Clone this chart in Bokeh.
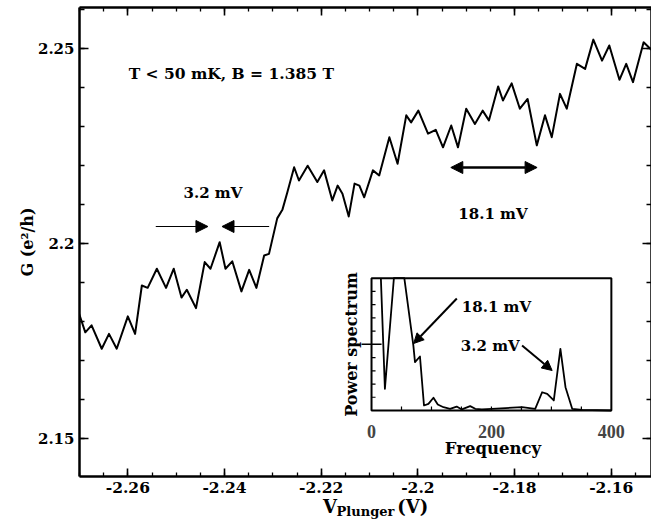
import math
from bokeh.plotting import figure
from bokeh.models import (Range1d, LinearAxis, FixedTicker, CustomJSTickFormatter,
                          Label, Arrow, NormalHead)
from bokeh.embed import file_html
from bokeh.resources import INLINE

# ---------------- data ----------------
v_plunger = [-2.2702, -2.2688, -2.2675, -2.2654, -2.2639, -2.2623, -2.2600, -2.2585,
             -2.2571, -2.2559, -2.2540, -2.2521, -2.2505, -2.2489, -2.2478, -2.2459,
             -2.2441, -2.2429, -2.2410, -2.2398, -2.2384, -2.2365, -2.2349, -2.2334,
             -2.2318, -2.2308, -2.2291, -2.2280, -2.2270, -2.2256, -2.2246, -2.2228,
             -2.2208, -2.2194, -2.2177, -2.2166, -2.2156, -2.2143, -2.2131, -2.2121,
             -2.2111, -2.2093, -2.2080, -2.2059, -2.2042, -2.2024, -2.2014, -2.1999,
             -2.1979, -2.1963, -2.1948, -2.1931, -2.1917, -2.1900, -2.1882, -2.1866,
             -2.1853, -2.1834, -2.1824, -2.1806, -2.1789, -2.1773, -2.1754, -2.1737,
             -2.1723, -2.1706, -2.1692, -2.1671, -2.1654, -2.1637, -2.1619, -2.1604,
             -2.1583, -2.1569, -2.1555, -2.1533, -2.1517]
conductance = [2.1824, 2.1772, 2.1790, 2.1730, 2.1768, 2.1730, 2.1813, 2.1768,
               2.1892, 2.1886, 2.1935, 2.1886, 2.1935, 2.1861, 2.1881, 2.1834,
               2.1952, 2.1935, 2.2003, 2.1935, 2.1954, 2.1877, 2.1932, 2.1886,
               2.1969, 2.1973, 2.2064, 2.2087, 2.2131, 2.2195, 2.2161, 2.2199,
               2.2157, 2.2187, 2.2110, 2.2148, 2.2127, 2.2069, 2.2153, 2.2148,
               2.2118, 2.2187, 2.2174, 2.2272, 2.2204, 2.2328, 2.2310, 2.2340,
               2.2281, 2.2291, 2.2246, 2.2302, 2.2246, 2.2345, 2.2306, 2.2340,
               2.2315, 2.2402, 2.2366, 2.2410, 2.2345, 2.2370, 2.2251, 2.2328,
               2.2272, 2.2383, 2.2345, 2.2460, 2.2447, 2.2522, 2.2468, 2.2507,
               2.2419, 2.2460, 2.2413, 2.2515, 2.2496]

frequency = [15.6, 22.3, 37.3, 54.7, 69.8, 72.5, 80.8, 87.5, 94.9, 103.3, 110.5,
             120.0, 131.0, 142.0, 150.6, 164.5, 173.0, 184.0, 200.8, 251.0, 273.0,
             284.5, 293.0, 304.0, 315.0, 323.5, 334.7, 351.5, 400.0]
power = [1.0, 0.164, 1.0, 1.0, 0.49, 0.365, 0.408, 0.038, 0.05, 0.096, 0.045,
         0.025, 0.013, 0.03, 0.008, 0.033, 0.013, 0.008, 0.013, 0.025, 0.013,
         0.138, 0.126, 0.076, 0.466, 0.176, 0.013, 0.005, 0.0]

x_major_ticks = [-2.26, -2.24, -2.22, -2.20, -2.18, -2.16]
x_minor_ticks = [-2.27, -2.265, -2.26, -2.255, -2.25, -2.245, -2.24, -2.235, -2.23,
                 -2.225, -2.22, -2.215, -2.21, -2.205, -2.20, -2.195, -2.19, -2.185,
                 -2.18, -2.175, -2.17, -2.165, -2.16, -2.155]
y_major_ticks = [2.15, 2.20, 2.25]
y_minor_ticks = [2.14, 2.15, 2.16, 2.17, 2.18, 2.19, 2.20, 2.21, 2.22, 2.23, 2.24,
                 2.25, 2.26]
inset_x_labels = [0, 200, 400]
inset_x_ticks = [50, 100, 150, 200, 250, 300, 350]
inset_y_ticks = [0.1, 0.2, 0.3, 0.4, 0.6, 0.7, 0.8, 0.9]

y_title = "G (e\u00b2/h)"
x_title_main = ["V", "(V)"]
x_title_sub = "Plunger"

# ---------------- layout ----------------
FONT = "DejaVu Serif"
W, H = 651, 528
FL, FR, FT, FB = 79, 649, 7, 476   # frame edges in picture pixels

p = figure(width=W, height=H, output_backend="svg", toolbar_location=None,
           tools="", x_range=Range1d(-2.27, -2.27 + (FR - FL) / 4817.0),
           y_range=Range1d(2.25 - (FB - 47.7) / 3903.0, 2.25 + (47.7 - FT) / 3903.0),
           min_border_left=FL, min_border_right=0, min_border_top=FT,
           min_border_bottom=H - FB)
p.outline_line_color = None
p.xgrid.grid_line_color = None
p.ygrid.grid_line_color = None
p.background_fill_color = "white"
p.border_fill_color = "white"

p.extra_x_ranges = {"px": Range1d(FL, FR),
                    "freq": Range1d(-(370 - FL) / 0.5975, 400 + (FR - 609) / 0.5975)}
p.extra_y_ranges = {"py": Range1d(FB, FT),
                    "pow": Range1d(-(FB - 410) / 132.3, 1 + (277.7 - FT) / 132.3)}

fmt = CustomJSTickFormatter(code="return String(parseFloat(tick.toFixed(3)));")
blank = CustomJSTickFormatter(code="return '';")


def style_axis(ax, major_in, minor_in, size="15.5px"):
    ax.axis_line_width = 2.5
    ax.axis_line_color = "black"
    ax.major_tick_in = major_in
    ax.major_tick_out = 0
    ax.minor_tick_in = minor_in
    ax.minor_tick_out = 0
    ax.major_tick_line_width = 1.6
    ax.minor_tick_line_width = 1.3
    ax.major_tick_line_color = "black"
    ax.minor_tick_line_color = "black"
    ax.major_label_text_font = FONT
    ax.major_label_text_font_style = "bold"
    ax.major_label_text_font_size = size
    ax.major_label_text_color = "black"


xt = FixedTicker(ticks=x_major_ticks, minor_ticks=x_minor_ticks)
yt = FixedTicker(ticks=y_major_ticks, minor_ticks=y_minor_ticks)

xa = p.xaxis[0]
xa.ticker = xt
xa.formatter = fmt
style_axis(xa, 8, 4)
xa.major_label_standoff = 5

ya = p.yaxis[0]
ya.ticker = yt
ya.formatter = fmt
style_axis(ya, 9, 5, "15px")
ya.major_label_standoff = 5
ya.axis_label = y_title
ya.axis_label_text_font = FONT
ya.axis_label_text_font_style = "bold"
ya.axis_label_text_font_size = "16px"
ya.axis_label_text_color = "black"
ya.axis_label_standoff = -2

top = LinearAxis(ticker=xt, formatter=blank, major_label_standoff=0)
style_axis(top, 8, 4, "1px")
p.add_layout(top, "above")

right = LinearAxis(ticker=yt, formatter=blank, major_label_standoff=0)
style_axis(right, 9, 5, "1px")
p.add_layout(right, "right")

# x-axis title "V_Plunger (V)": a label-only axis (pixel positions) whose
# tick labels give "V" and "(V)" and whose axis label gives the subscript
title_axis = LinearAxis(x_range_name="px",
                        ticker=FixedTicker(ticks=[328.5, 411], minor_ticks=[]),
                        formatter=CustomJSTickFormatter(
                            args=dict(words=x_title_main),
                            code="return words[index];"),
                        axis_line_color=None, major_tick_line_color=None,
                        minor_tick_line_color=None, major_label_standoff=-6,
                        major_label_text_font=FONT, major_label_text_font_style="bold",
                        major_label_text_font_size="18px",
                        major_label_text_color="black",
                        axis_label=x_title_sub, axis_label_standoff=-16,
                        axis_label_text_font=FONT, axis_label_text_font_style="bold",
                        axis_label_text_font_size="13px",
                        axis_label_text_color="black")
p.add_layout(title_axis, "below")

# ---------------- main curve ----------------
p.line(v_plunger, conductance, line_color="black", line_width=2, line_join="round")


def add_text(text, x, y, size, align="left", baseline="alphabetic", angle=0.0):
    p.add_layout(Label(x=x, y=y, x_range_name="px", y_range_name="py", text=text,
                       text_font=FONT, text_font_style="bold",
                       text_font_size=f"{size}px", text_color="black",
                       text_align=align, text_baseline=baseline, angle=angle))


def add_arrow(x0, y0, x1, y1, width, head, both=False):
    kw = dict(x_start=x0, y_start=y0, x_end=x1, y_end=y1, line_width=width,
              line_color="black", x_range_name="px", y_range_name="py",
              end=NormalHead(size=head, fill_color="black", line_color="black",
                             line_width=1))
    kw["start"] = (NormalHead(size=head, fill_color="black", line_color="black",
                              line_width=1) if both else None)
    p.add_layout(Arrow(**kw))


# main annotations
add_text("T < 50 mK, B = 1.385 T", 128, 73, 15.5)
add_text("3.2 mV", 212, 192, 15, align="center")
add_arrow(155, 226, 207, 226, 1.2, 12)
add_arrow(268, 226, 221, 226, 1.2, 12)
add_text("18.1 mV", 491, 213, 15, align="center")
add_arrow(449, 167, 535, 167, 2.5, 12, both=True)

# ---------------- inset ----------------
p.quad(left=[0], right=[400], bottom=[0], top=[1], x_range_name="freq",
       y_range_name="pow", fill_color="white", line_color="black", line_width=2)
tx = 4 / 0.5975
ty = 4 / 132.3
p.segment(x0=[0] * len(inset_y_ticks), y0=inset_y_ticks,
          x1=[tx] * len(inset_y_ticks), y1=inset_y_ticks,
          x_range_name="freq", y_range_name="pow", line_color="black", line_width=1.2)
p.segment(x0=[-10 / 0.5975], y0=[0.5], x1=[10 / 0.5975], y1=[0.5],
          x_range_name="freq", y_range_name="pow", line_color="black", line_width=1.5)
p.segment(x0=inset_x_ticks, y0=[0] * len(inset_x_ticks), x1=inset_x_ticks,
          y1=[ty] * len(inset_x_ticks),
          x_range_name="freq", y_range_name="pow", line_color="black", line_width=1.2)
p.line(frequency, power, x_range_name="freq", y_range_name="pow",
       line_color="black", line_width=1.8, line_join="round")

for val in inset_x_labels:
    p.add_layout(Label(x=val, y=-0.16, x_range_name="freq", y_range_name="pow",
                       text=str(val), text_font="Liberation Serif",
                       text_font_style="bold", text_font_size="18px",
                       text_align="center", text_baseline="alphabetic"))
add_text("Frequency", 491, 448, 16.5, align="center")
add_text("Power spectrum", 350, 344, 16, align="center", baseline="middle",
         angle=math.pi / 2)
add_text("18.1 mV", 460, 306, 15)
add_arrow(455, 298, 412, 343, 2, 10)
add_text("3.2 mV", 459, 345, 15)
add_arrow(520, 345, 550, 370, 2, 10)

open("out.html", "w").write(file_html(p, INLINE))
